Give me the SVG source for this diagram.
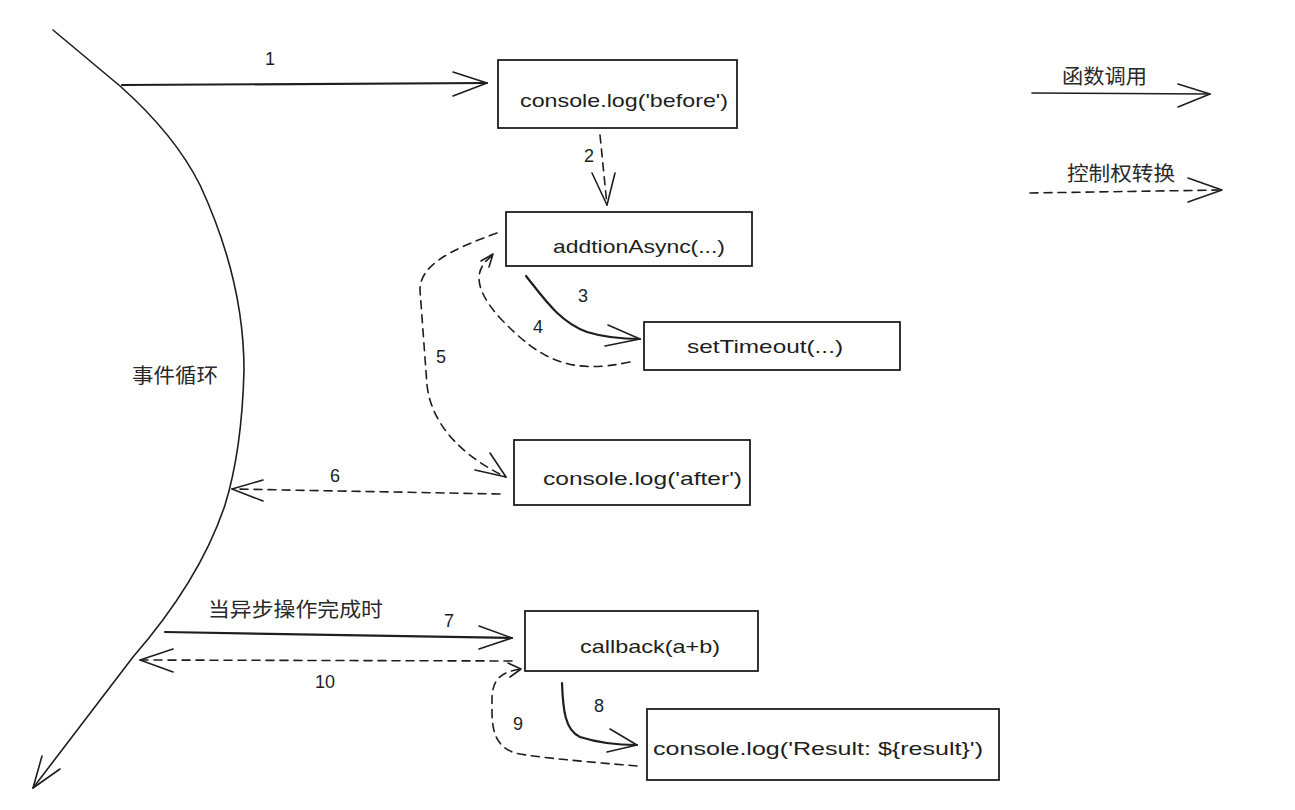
<svg xmlns="http://www.w3.org/2000/svg" width="1295" height="810" viewBox="0 0 1295 810">
<style>
.bg{fill:#ffffff}
.box{fill:none;stroke:#1e1e1e;stroke-width:1.8}
.ln{fill:none;stroke:#1e1e1e;stroke-width:1.6;stroke-linecap:round;stroke-linejoin:round}
.thick{stroke-width:2.2}
.dash{stroke-dasharray:8 6}
.code{font-family:"Liberation Sans","DejaVu Sans",sans-serif;font-size:19px;fill:#1e1e1e}
.num{font-family:"Liberation Sans","DejaVu Sans",sans-serif;font-size:18px;fill:#1e1e1e;text-anchor:middle}
.zh{font-family:"Liberation Sans","Noto Sans CJK SC",sans-serif;font-size:20px;fill:#2a2a2a}
</style>
<rect class="bg" x="0" y="0" width="1295" height="810"/>

<g id="event-loop">
<path class="ln" d="M53,30 L120,86 Q175,135 200,185 Q244,280 244,370 Q242,450 225,505 Q200,580 133,657 L33,788"/>
<path class="ln" d="M42,756 L33,788 L60,769"/>
<text class="zh" x="132" y="383" textLength="86" lengthAdjust="spacingAndGlyphs">事件循环</text>
</g>

<g id="node-before">
<rect class="box" x="498" y="60" width="239" height="68"/>
<text class="code" x="520" y="107" textLength="208" lengthAdjust="spacingAndGlyphs">console.log('before')</text>
</g>

<g id="node-addtionAsync">
<rect class="box" x="506" y="212" width="246" height="54"/>
<text class="code" x="553" y="253" textLength="172" lengthAdjust="spacingAndGlyphs">addtionAsync(...)</text>
</g>

<g id="node-setTimeout">
<rect class="box" x="644" y="322" width="256" height="48"/>
<text class="code" x="687" y="353" textLength="156" lengthAdjust="spacingAndGlyphs">setTimeout(...)</text>
</g>

<g id="node-after">
<rect class="box" x="514" y="440" width="236" height="65"/>
<text class="code" x="543" y="485" textLength="199" lengthAdjust="spacingAndGlyphs">console.log('after')</text>
</g>

<g id="node-callback">
<rect class="box" x="525" y="611" width="233" height="60"/>
<text class="code" x="580" y="653" textLength="140" lengthAdjust="spacingAndGlyphs">callback(a+b)</text>
</g>

<g id="node-result">
<rect class="box" x="647" y="709" width="352" height="71"/>
<text class="code" x="653" y="755" textLength="330" lengthAdjust="spacingAndGlyphs">console.log('Result: ${result}')</text>
</g>

<g id="connectors">
<!-- 1 -->
<path class="ln thick" d="M122,85 L487,83"/>
<path class="ln" d="M453,72 L487,83 L453,96"/>
<text class="num" x="270" y="65">1</text>
<!-- 2 -->
<path class="ln dash" d="M600,135 L607,205"/>
<path class="ln" d="M592,173 L607,205 L615,173"/>
<text class="num" x="589" y="162">2</text>
<!-- 3 -->
<path class="ln thick" d="M526,276 C545,300 560,322 587,332 Q610,339 640,339"/>
<path class="ln" d="M608,325 L640,339 L605,346"/>
<text class="num" x="583" y="302">3</text>
<!-- 4 -->
<path class="ln dash" d="M630,362 C570,375 540,360 500,318 C475,290 472,270 493,255"/>
<path class="ln" d="M481,261 L493,254 L489,267"/>
<text class="num" x="538" y="333">4</text>
<!-- 5 -->
<path class="ln dash" d="M497,233 C450,250 420,265 420,290 L427,385 C432,430 470,460 506,477"/>
<path class="ln" d="M475,470 L506,477 L490,453"/>
<text class="num" x="441" y="363">5</text>
<!-- 6 -->
<path class="ln dash" d="M500,494 L232,489"/>
<path class="ln" d="M263,480 L232,489 L263,501"/>
<text class="num" x="335" y="482">6</text>
<!-- 7 -->
<path class="ln thick" d="M165,632 L512,638"/>
<path class="ln" d="M479,626 L512,638 L479,649"/>
<text class="num" x="449" y="627">7</text>
<text class="zh" x="208" y="617" textLength="175" lengthAdjust="spacingAndGlyphs">当异步操作完成时</text>
<!-- 8 -->
<path class="ln thick" d="M562,683 C563,710 565,730 580,737 Q605,745 637,745"/>
<path class="ln" d="M610,729 L637,745 L607,752"/>
<text class="num" x="599" y="712">8</text>
<!-- 9 -->
<path class="ln dash" d="M637,766 C590,762 540,758 515,753 C490,745 492,720 492,700 C492,680 500,672 521,669"/>
<path class="ln" d="M508,663 L521,669 L510,677"/>
<text class="num" x="518" y="730">9</text>
<!-- 10 -->
<path class="ln dash" d="M512,661 L140,660"/>
<path class="ln" d="M173,649 L140,660 L173,672"/>
<text class="num" x="325" y="688">10</text>
</g>

<g id="legend">
<text class="zh" x="1062" y="84" textLength="85" lengthAdjust="spacingAndGlyphs">函数调用</text>
<path class="ln" d="M1032,93 L1210,94"/>
<path class="ln" d="M1178,84 L1210,94 L1178,107"/>
<text class="zh" x="1067" y="181" textLength="108" lengthAdjust="spacingAndGlyphs">控制权转换</text>
<path class="ln dash" d="M1030,193 L1222,190"/>
<path class="ln" d="M1188,178 L1222,190 L1188,202"/>
</g>
</svg>
